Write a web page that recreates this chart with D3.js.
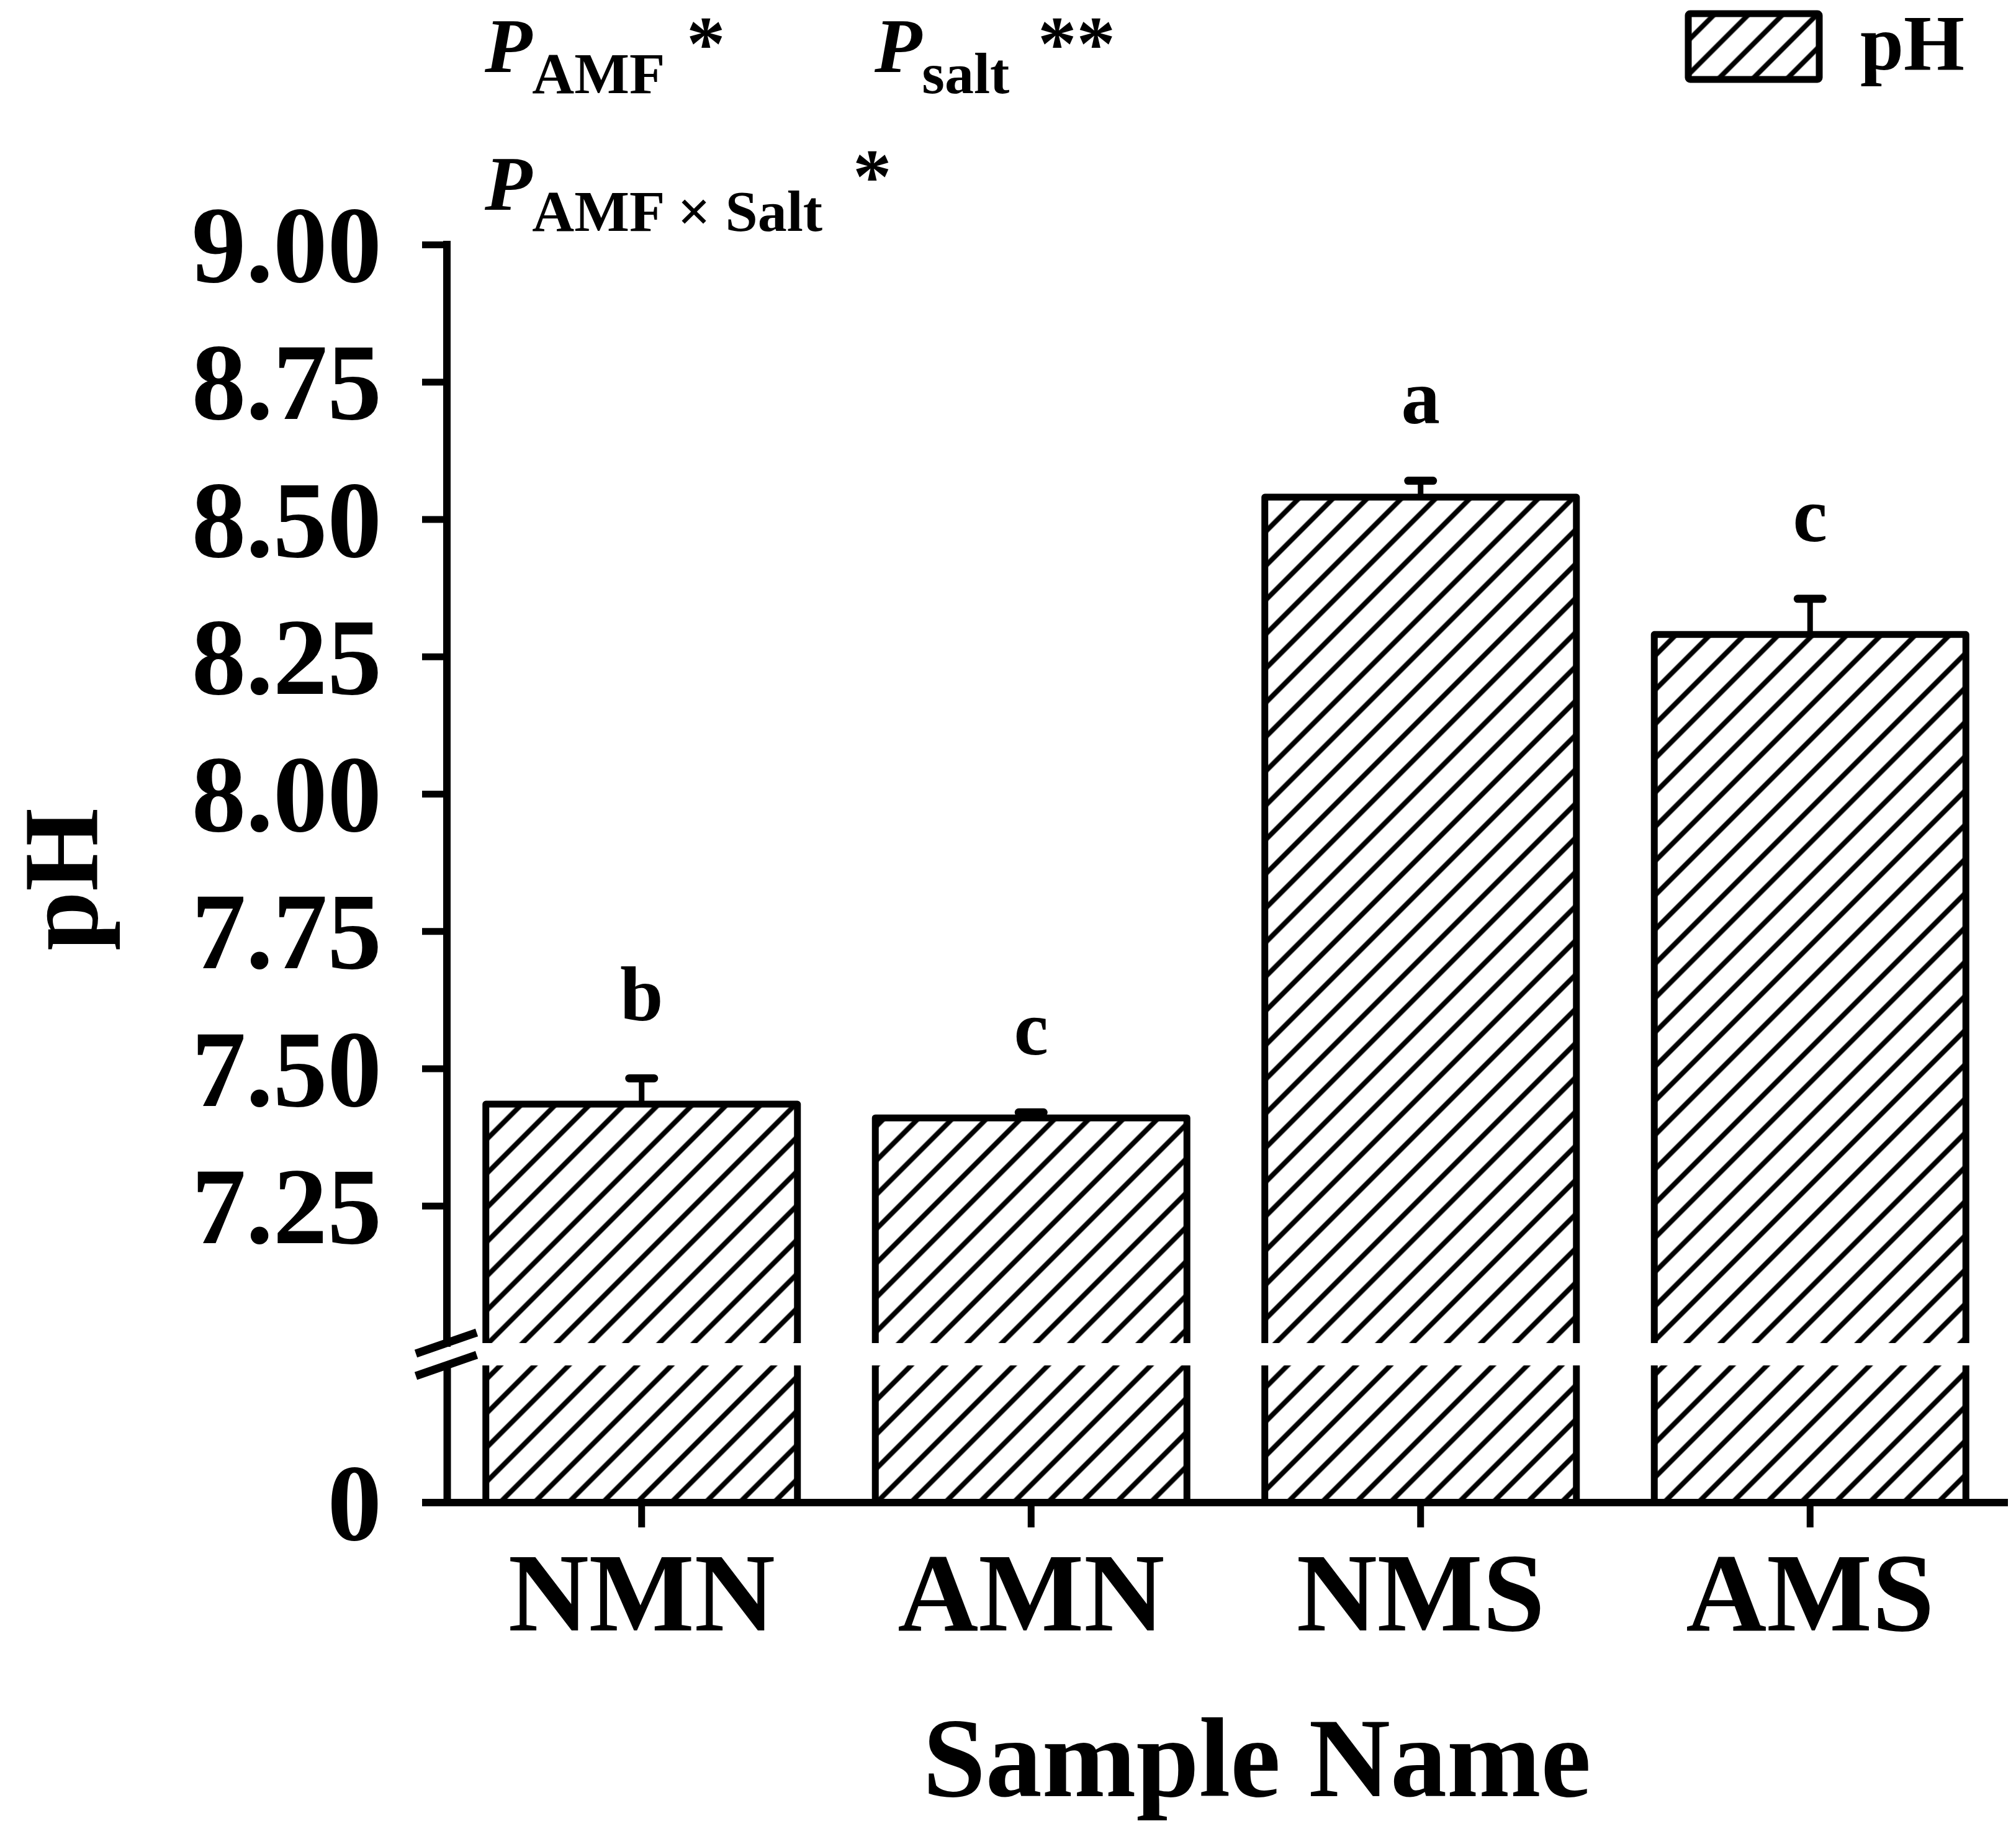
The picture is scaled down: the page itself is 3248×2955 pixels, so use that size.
<!DOCTYPE html>
<html><head><meta charset="utf-8">
<script src="https://cdn.jsdelivr.net/npm/d3@7"></script>
<style>
html,body{margin:0;padding:0;background:#fff;}
text{font-family:"Liberation Serif","Times New Roman",serif;font-weight:bold;fill:#000;}
</style>
</head><body>
<svg id="chart" width="3248" height="2955" xmlns="http://www.w3.org/2000/svg"></svg>
<script>
// ---- data ----
const categories = ["NMN", "AMN", "NMS", "AMS"];
const phValues = [7.435, 7.41, 8.54, 8.29];
const phErrors = [0.047, 0.01, 0.03, 0.065];
const sigLetters = ["b", "c", "a", "c"];
const upperTicks = [7.25, 7.50, 7.75, 8.00, 8.25, 8.50, 8.75, 9.00];
const lowerTicks = [0];
const upperDomain = [7.0, 9.0];
const lowerDomain = [0, 0.25];
const seriesName = "pH";
const xTitle = "Sample Name";
const yTitle = "pH";

// ---- layout ----
const svg = d3.select("#chart");
svg.append("rect").attr("width", 3248).attr("height", 2955).attr("fill", "#fff");

const axisX = 720;
const yUpper = d3.scaleLinear().domain(upperDomain).range([2164, 394]);
const yLower = d3.scaleLinear().domain(lowerDomain).range([2421, 2200]).clamp(true);
const x = d3.scaleBand().domain(categories).range([axisX, 3230]).paddingInner(0.2).paddingOuter(0.1);
const bw = x.bandwidth();

// hatch pattern
const defs = svg.append("defs");
const pat = defs.append("pattern").attr("id", "hatch").attr("patternUnits", "userSpaceOnUse")
  .attr("width", 39).attr("height", 39).attr("patternTransform", "rotate(45)");
pat.append("rect").attr("width", 39).attr("height", 39).attr("fill", "#fff");
pat.append("line").attr("x1", 19.5).attr("y1", -2).attr("x2", 19.5).attr("y2", 41)
  .attr("stroke", "#000").attr("stroke-width", 8);

const data = categories.map((c, i) => ({cat: c, v: phValues[i], e: phErrors[i], l: sigLetters[i]}));

// upper bar parts
const gBars = svg.append("g");
gBars.selectAll("rect.up").data(data).join("rect").attr("class", "up")
  .attr("x", d => x(d.cat)).attr("y", d => yUpper(d.v))
  .attr("width", bw).attr("height", d => yUpper(upperDomain[0]) - yUpper(d.v))
  .attr("fill", "url(#hatch)");
gBars.selectAll("path.up").data(data).join("path").attr("class", "up")
  .attr("d", d => `M${x(d.cat)},${yUpper(upperDomain[0])}V${yUpper(d.v)}H${x(d.cat) + bw}V${yUpper(upperDomain[0])}`)
  .attr("fill", "none").attr("stroke", "#000").attr("stroke-width", 11).attr("stroke-linejoin", "round");
// lower bar parts
gBars.selectAll("rect.low").data(data).join("rect").attr("class", "low")
  .attr("x", d => x(d.cat)).attr("y", d => yLower(d.v))
  .attr("width", bw).attr("height", d => yLower(0) - yLower(d.v))
  .attr("fill", "url(#hatch)");
gBars.selectAll("path.low").data(data).join("path").attr("class", "low")
  .attr("d", d => `M${x(d.cat)},${yLower(d.v)}V${yLower(0)}M${x(d.cat) + bw},${yLower(d.v)}V${yLower(0)}`)
  .attr("fill", "none").attr("stroke", "#000").attr("stroke-width", 11);

// error bars
const gErr = svg.append("g").attr("stroke", "#000");
gErr.selectAll("line.stem").data(data).join("line").attr("class", "stem")
  .attr("x1", d => x(d.cat) + bw / 2).attr("x2", d => x(d.cat) + bw / 2)
  .attr("y1", d => yUpper(d.v)).attr("y2", d => yUpper(d.v + d.e)).attr("stroke-width", 9);
gErr.selectAll("line.cap").data(data).join("line").attr("class", "cap")
  .attr("x1", d => x(d.cat) + bw / 2 - 20).attr("x2", d => x(d.cat) + bw / 2 + 20)
  .attr("y1", d => yUpper(d.v + d.e)).attr("y2", d => yUpper(d.v + d.e))
  .attr("stroke-width", 13).attr("stroke-linecap", "round");

// significance letters
svg.append("g").selectAll("text").data(data).join("text")
  .attr("x", d => x(d.cat) + bw / 2).attr("y", d => yUpper(d.v + d.e) - 93)
  .attr("text-anchor", "middle").attr("font-size", 125).text(d => d.l);

// y axes
function styleAxis(g, fs) {
  g.attr("font-size", fs).attr("font-family", '"Liberation Serif","Times New Roman",serif').attr("font-weight", "bold");
  g.selectAll(".tick line").attr("stroke", "#000").attr("stroke-width", 11);
  g.selectAll(".domain").attr("stroke", "#000").attr("stroke-width", 12);
  g.selectAll(".tick text").attr("fill", "#000");
}
const gYU = svg.append("g").attr("transform", `translate(${axisX},0)`)
  .call(d3.axisLeft(yUpper).tickValues(upperTicks).tickFormat(d3.format(".2f")).tickSize(40).tickSizeOuter(0).tickPadding(65));
styleAxis(gYU, 175);
gYU.select(".domain").attr("stroke-linecap", "square").attr("d", `M0,${yUpper(upperDomain[0])}V${yUpper(upperDomain[1])}`);
gYU.selectAll(".tick text").attr("dy", "0.34em");

const gYL = svg.append("g").attr("transform", `translate(${axisX},0)`)
  .call(d3.axisLeft(yLower).tickValues(lowerTicks).tickFormat(d3.format("d")).tickSize(40).tickSizeOuter(0).tickPadding(65));
styleAxis(gYL, 175);
gYL.selectAll(".tick text").attr("dy", "0.34em");

// axis break marks
const brkTop = yUpper(upperDomain[0]), brkBot = yLower(lowerDomain[1]);
svg.append("g").attr("stroke", "#000").attr("stroke-width", 13)
  .selectAll("line").data([brkTop, brkBot]).join("line")
  .attr("x1", axisX - 50).attr("x2", axisX + 48)
  .attr("y1", d => d + 17).attr("y2", d => d - 17);

// x axis
const gX = svg.append("g").attr("transform", `translate(0,${yLower(0)})`)
  .call(d3.axisBottom(x).tickSize(40).tickSizeOuter(0));
styleAxis(gX, 180);
gX.select(".domain").attr("d", `M${axisX - 40},0H${x.range()[1] + 5}`);
gX.selectAll(".tick text").attr("y", 206).attr("dy", 0);

// axis titles
svg.append("text").attr("x", 2025).attr("y", 2894).attr("text-anchor", "middle")
  .attr("font-size", 182).text(xTitle);
svg.append("text").attr("transform", "translate(156,1417) rotate(-90)").attr("text-anchor", "middle")
  .attr("font-size", 172).text(yTitle);

// legend
svg.append("rect").attr("x", 2720).attr("y", 22).attr("width", 211).attr("height", 106)
  .attr("fill", "url(#hatch)").attr("stroke", "#000").attr("stroke-width", 11).attr("rx", 3);
svg.append("text").attr("x", 2997).attr("y", 112).attr("font-size", 126).text(seriesName);

// P-value annotations
function pLabel(px, py, sub, stars, starX, starY) {
  const t = svg.append("text").attr("x", px).attr("y", py);
  t.append("tspan").attr("font-style", "italic").attr("font-size", 125).text("P");
  t.append("tspan").attr("font-size", 94).attr("dy", 34).text(sub);
  svg.append("text").attr("x", starX).attr("y", starY).attr("font-size", 125).text(stars);
}
pLabel(781, 116, "AMF", "*", 1106, 112);
pLabel(1409, 116, "salt", "**", 1672, 112);
pLabel(781, 338, "AMF \u00d7 Salt", "*", 1374, 326);
</script>
</body></html>
